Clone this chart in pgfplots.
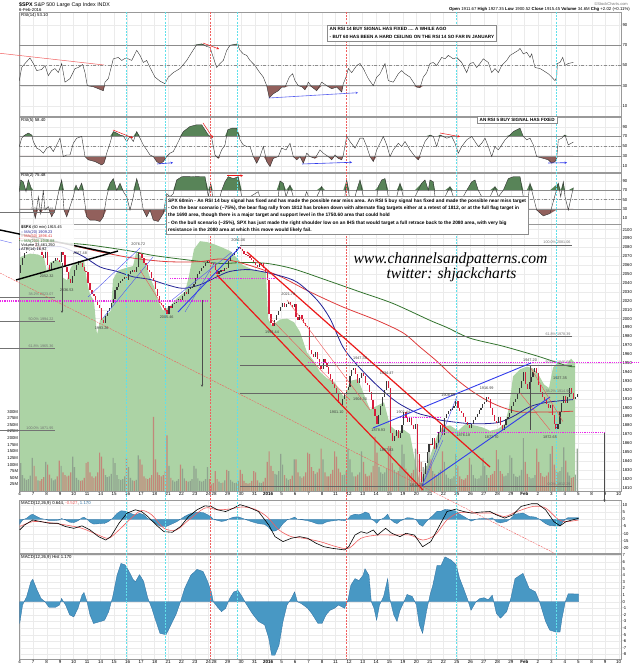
\documentclass[border=0pt]{standalone}
\usepackage{fontspec}
\setmainfont{Liberation Sans}
\newfontfamily\wmfont{Liberation Serif}
\usepackage{pgfplots}
\usepackage{pgfplotstable}
\pgfplotsset{compat=1.18}
\usetikzlibrary{arrows.meta}

\definecolor{areagreen}{RGB}{172,211,165}
\definecolor{volred}{RGB}{196,128,118}
\definecolor{volgray}{RGB}{140,158,140}
\definecolor{cdnred}{RGB}{215,30,60}
\definecolor{cdnup}{RGB}{55,55,55}
\definecolor{rsigreen}{RGB}{88,132,88}
\definecolor{rsibrown}{RGB}{146,96,92}
\definecolor{maA}{RGB}{35,35,150}
\definecolor{maB}{RGB}{222,60,60}
\definecolor{maC}{RGB}{50,115,45}
\definecolor{cyanl}{RGB}{95,225,235}
\definecolor{redl}{RGB}{240,95,95}
\definecolor{histblue}{RGB}{72,152,196}
\definecolor{histedge}{RGB}{45,110,160}
\definecolor{magl}{RGB}{235,40,235}
\definecolor{trblue}{RGB}{50,60,235}
\definecolor{trred}{RGB}{235,25,25}

\newcommand\fs[1]{\fontsize{#1}{#1}\selectfont}

\pgfplotstableread{
k c v
-1 2051 0
0 2060 105
1 2068 60
2 2074 48
3 2078 42
4 2083 45
5 2088 58
6 2091.7 125
7 2086 95
8 2080 55
9 2082 40
10 2077 38
11 2072 45
12 2068 52
13 2077 110
14 2060 100
15 2055 62
16 2062 48
17 2065 40
18 2068 44
19 2066 55
20 2063.6 115
21 2075 95
22 2072 70
23 2058 60
24 2052 55
25 2045 58
26 2040 70
27 2047.6 130
28 2055 90
29 2060 50
30 2065 42
31 2062 38
32 2058 40
33 2054 50
34 2052.2 105
35 2040 110
36 2032 70
37 2028 55
38 2025 50
39 2020 55
40 2015 70
41 2012.4 145
42 1998 130
43 1995 85
44 2003 60
45 2008 52
46 2012 55
47 2018 65
48 2021.9 125
49 2032 105
50 2036 60
51 2040 45
52 2042 42
53 2044 45
54 2047 55
55 2043.4 125
56 2050 90
57 2053 50
58 2055 40
59 2052 38
60 2058 42
61 2074 135
62 2073.1 120
63 2068 100
64 2063 55
65 2060 48
66 2055 45
67 2052 50
68 2046 60
69 2041.9 280
70 2033 120
71 2025 70
72 2018 60
73 2015 55
74 2012 60
75 2010 75
76 2005.6 210
77 2014 95
78 2012 50
79 2016 40
80 2018 35
81 2020 38
82 2022 45
83 2021.2 100
84 2025 85
85 2030 48
86 2028 38
87 2033 35
88 2035 38
89 2036 45
90 2039 95
91 2046 85
92 2050 48
93 2054 38
94 2057 35
95 2059 38
96 2062 45
97 2064.3 90
98 2063 45
99 2062 25
100 2061 30
101 2055 75
102 2050 45
103 2053 35
104 2055 30
105 2054 32
106 2057 40
107 2056.5 80
108 2065 75
109 2070 42
110 2072 35
111 2075 30
112 2078 32
113 2080 38
114 2078.4 80
115 2076 65
116 2073 38
117 2072 30
118 2070 28
119 2068 30
120 2066 38
121 2063.4 75
122 2060 70
123 2058 40
124 2061 32
125 2062 30
126 2057 35
127 2052 50
128 2043.9 110
129 2005 150
130 1995 95
131 1992 75
132 1998 65
133 2004 62
134 2008 75
135 2012.7 140
136 2018 100
137 2013 60
138 2016 48
139 2019 42
140 2015 45
141 2013 58
142 2016.7 120
143 2002 120
144 1998 70
145 2004 55
146 2000 50
147 1995 55
148 1992 70
149 1990.3 145
150 1965 140
151 1960 90
152 1957 75
153 1962 65
154 1955 70
155 1948 85
156 1943.1 160
157 1955 120
158 1950 70
159 1946 55
160 1938 55
161 1932 65
162 1926 80
163 1922 150
164 1915 130
165 1905 85
166 1903 70
167 1910 60
168 1915 62
169 1920 75
170 1923.7 160
171 1935 120
172 1942 70
173 1945 55
174 1938 55
175 1928 62
176 1933 70
177 1938.7 150
178 1935 110
179 1928 65
180 1925 55
181 1918 58
182 1908 70
183 1898 95
184 1890.3 205
185 1882 145
186 1892 90
187 1902 70
188 1912 65
189 1920 70
190 1930 85
191 1921.8 170
192 1872 170
193 1862 105
194 1868 80
195 1875 70
196 1866 75
197 1872 90
198 1880.3 175
199 1895 140
200 1888 85
201 1884 70
202 1888 62
203 1880 68
204 1876 80
205 1881.3 160
206 1848 155
207 1828 120
208 1816 110
209 1825 90
210 1838 85
211 1850 95
212 1859.3 175
213 1858 120
214 1866 75
215 1854 65
216 1860 60
217 1873 70
218 1880 80
219 1869 150
220 1888 110
221 1893 62
222 1896 50
223 1898 45
224 1900 48
225 1902 55
226 1906.9 140
227 1900 95
228 1896 55
229 1894 45
230 1889 42
231 1884 48
232 1880 60
233 1877.1 125
234 1882 100
235 1886 60
236 1890 48
237 1893 45
238 1897 48
239 1900 58
240 1903.6 125
241 1906 95
242 1912 60
243 1910 50
244 1900 60
245 1892 65
246 1885 75
247 1883 155
248 1890 120
249 1880 75
250 1875 65
251 1880 55
252 1887 58
253 1890 68
254 1893.4 135
255 1902 125
256 1906 65
257 1910 55
258 1916 52
259 1922 58
260 1930 80
261 1940.2 200
262 1926 110
263 1921 65
264 1929 52
265 1934 48
266 1940 50
267 1945 60
268 1939.4 160
269 1925 110
270 1917 68
271 1912 55
272 1908 52
273 1904 58
274 1900 70
275 1903 140
276 1892 170
277 1882 100
278 1876 80
279 1882 70
280 1895 75
281 1905 90
282 1912.5 165
283 1905 115
284 1912 70
285 1922 58
286 1916 50
287 1910 52
288 1912 62
289 1915.45 160
}\price
\pgfplotstablecreatecol[create col/assign/.code={%
  \getprevrow{c}\pvv
  \ifx\pvv\empty\getthisrow{c}\pvv\fi
  \pgfkeyslet{/pgfplots/table/create col/next content}\pvv}]{o}{\price}

\pgfplotstableread{
x y
19.3 35
21.7 48
25 52
30 57.5
33.3 52
36.7 45
41.7 46
45 50
48.3 40
51.7 45
55 47
58.3 43
61.7 52
65 33.5
70 37
75 47
78.3 48
82.7 51
85 43
87.3 30
93.3 29
103.3 25
105 33.5
108.3 37
113.3 56.6
118.3 58
121.7 55
125 57
128.3 56.6
131.7 55
136.7 65
140 60
143.3 53
146.7 55
150 48
155 38.5
160 34.5
165 32
168.3 38.5
173.3 43
180 47
186.7 55
191.7 63
196.7 70.7
201.7 71.4
206.7 68.8
210 68
213.3 58
216.7 48
220 52
223.3 55
226.7 65
230 70
233.3 70.7
237.3 71.4
240 65
243.3 61.5
246.7 60
250 55
255 50
258.3 45
263.3 38.5
266.7 30
269.3 18
273.3 22
278.3 25
281.7 28.6
285 28.6
289.3 38.5
292.7 41.8
295 35
298.3 30
301.7 29
305 26
308.3 33.5
312 28.6
316.7 25
321.7 33.5
326.7 30
331.7 27
336.7 28.6
341.7 23.7
343.3 32
346 38.5
348.3 47
351.7 43
356.7 50
360 52
363.3 47
368.3 37
373.3 30
376.7 38.5
380 41.8
385 52
388.3 35
393.3 33.5
398.3 41.8
401.7 45
405 41.8
410 38.5
413.3 33.5
416.7 28.6
420 28
423.3 38.5
426.7 43
430 52
433.3 53
436.7 50
441.7 58
445 56.6
448.3 60
453.3 56.6
456.7 58
461.7 53
466.7 43
470 52
473.3 53
476.7 48
480 52
483.3 56.6
488.3 53
491.7 43
495 47
498.3 43
501.7 50
506.7 55
510 60
515 63
518.3 65
520 67
523.3 61.5
526.7 63
530 58
531.7 61.5
535 48
540 47
543.3 45
548.3 41.8
551.7 38.5
555 35
556.7 38.5
557.3 52
560 53
562.7 58
565 50
568.3 52
573.3 53.1
}\rsiA

\pgfplotstableread{
x y
19.3 49.3
21.7 66.5
25 73
28.3 77
31.7 73
33.3 59.6
36.7 46
40 42.4
43.3 35.6
46.7 46
50 49.3
53.3 39
56.7 52.7
60 66.5
63.3 28.7
66.7 32
70 32
73.3 56
76.7 66.5
81.7 70
85 28.7
88.3 22
95 18.4
101.7 11.5
104 15
106.7 35.6
110 56
113.3 80
116.7 77
120 73
123.3 71
126.7 59.6
130 70
133.3 59.6
136.7 80
140 66.5
143.3 52.7
146.7 42.4
150 32
153.3 28.7
156.7 18.4
160 13.6
163.3 18.4
166.7 28.7
170 35.6
173.3 39
176.7 52.7
180 66.5
183.3 80
190 90.5
196.7 94
201.7 94
205 83.7
208.3 73
211.7 66.5
215 32
218.3 25
221.7 42.4
225 52.7
227.7 83.7
231.7 87
236.7 87
240 63
243.3 52.7
246.7 49.3
250 49.3
253.3 28.7
256.7 15
260 28.7
263.3 49.3
266.7 18.4
270 8
273.3 25
278.3 28.7
281.7 46
286 42.4
290 56
293.3 28.7
296.7 22
300 28.7
303.3 15
306.7 35.6
310 28.7
315 25
320 42.4
323.3 35.6
328.3 28.7
331.7 22
335 32
338.3 25
341.7 22
343.3 32
346.7 70
350 59.6
355 46
360 66.5
363.3 66.5
366.7 49.3
370 28.7
373.3 18.4
376.7 42.4
380 56
383.3 70
386.7 52.7
390 28.7
393.3 42.4
398.3 56
401.7 49.3
405 59.6
410 42.4
415 28.7
418.3 22
421.7 42.4
425 59.6
430 73
433.3 70
436.7 49.3
440 73
443.3 70
446.7 66.5
451.7 70
455 56
458.3 35.6
461.7 49.3
466.7 63
471.7 70
475 59.6
478.3 49.3
481.7 56
485 66.5
488.3 49.3
491.7 28.7
495 49.3
498.3 42.4
501.7 52.7
505 63
510 73
513.3 80
516.7 83.7
520 87
523.3 70
526.7 63
530 66.5
533.3 52.7
536.7 28.7
543.3 25
548.3 22
551.7 15
555 18.4
556.7 25
558.3 63
561.7 66.5
565 73
568.3 52.7
573.3 58.4
}\rsiB

\pgfplotstableread{
x y
19.3 67
20.7 92
23.3 88
26 67
28.3 92
30.7 78
33.3 27.5
35.3 10
38.3 56
40.7 20
43.3 70
45 27.5
48.3 35
51.7 13
55 27.5
58.3 63
61.7 92
64 27.5
66.7 13
70 35
73.3 56
76 81
78.3 70
81.7 85
84 56
86.7 13
90 6
95 6
100 3
103.3 13
106.7 56
110 85
113.3 95
116.7 70
120 85
123.3 67
126.7 56
130 27.5
133.3 56
136.7 95
140 70
143.3 27.5
146.7 13
150 27.5
153.3 6
158.3 3
163.3 20
166.7 63
170 56
173.3 63
176.7 92
181.7 99
193.3 99.5
200 99
205 99
208.3 56
210.7 85
212.7 56
216.7 27.5
221.7 70
225 88
228.3 99
233.3 95
238.3 99
241.7 56
245 27.5
250 56
258.3 67
263.3 27.5
270 56
276.7 27.5
280 90
283.3 85
286 56
290 81
293.3 56
300 27.5
306.7 67
313.3 27.5
316.7 56
321.7 78
325 27.5
330 56
335 27.5
340 40
343.3 27.5
346.7 92
349.3 56
351.7 27.5
356.7 70
360 92
363.3 56
368.3 27.5
375 27.5
378.3 78
381.7 92
385 95
388.3 56
391.7 27.5
396.7 56
400 85
403.3 56
410 27.5
415 56
421.7 85
425 92
428.3 70
430 92
433.3 88
435 56
440 27.5
445 56
450 78
453.3 56
458.3 27.5
463.3 56
466.7 70
471.7 88
475 92
478.3 70
481.7 56
485 27.5
490 56
495 78
498.3 56
503.3 70
508.3 95
513.3 99
520 99
523.3 56
526.7 27.5
530 85
533.3 56
536.7 27.5
543.3 15
550 20
558.3 85
560.7 56
563.3 88
565 56
568.3 27.5
573.3 75.5
}\rsiC

\pgfplotstableread{
x y
19 2068
24 2071
30 2073
38 2072
44 2069
47 2052
50 2063
56 2066
61 2064
63 2046
67 2043
71 2058
77 2064
84 2066
87 2042
90 2027
94 2020
97 1982
100 1998
106 2004
111 2009
113 2044
118 2054
126 2057
133 2059
136 2074
140 2071
146 2060
150 2046
154 2036
158 2020
163 2009
170 2014
177 2023
185 2030
189 2048
194 2078
200 2087
207 2086
213 2084
222 2080
230 2076
237 2068
243 2060
255 2054
266 2052
268 2000
272 1992
280 1999
287 2000
294 1996
300 1985
307 1962
314 1952
320 1940
327 1933
335 1928
341 1916
345 1911
350 1930
358 1932
365 1912
370 1898
377 1902
384 1906
390 1880
397 1873
404 1875
410 1870
415 1840
420 1815
425 1830
431 1848
437 1868
442 1878
450 1880
458 1874
466 1882
474 1880
482 1878
490 1874
498 1876
505 1882
509 1900
513 1935
520 1943
527 1946
533 1944
538 1938
544 1926
549 1922
553 1945
558 1951
563 1947
568 1950
571 1955
575 1950
}\greenA

\pgfplotstableread{
x y
19 2078
40 2079
60 2081
83 2070
100 2058
117 2053
133 2047
150 2044
167 2038
183 2034
200 2038
217 2047
230 2053
250 2055
277 2049
297 2041
317 2021
330 2000
343 1968
357 1948
377 1925
397 1906
417 1894
430 1890
440 1886
470 1882
497 1883
513 1890
530 1901
547 1906
573 1909
}\maAt

\pgfplotstableread{
x y
19 2090
60 2085
100 2075
133 2068
167 2064
200 2064
220 2067
243 2062
277 2049
310 2030
343 2013
377 1998
403 1984
420 1968
437 1952
453 1935
470 1920
487 1908
503 1900
520 1895
540 1895
555 1895
573 1896
}\maBt

\pgfplotstableread{
x y
19 2088
50 2086
87 2083
130 2076
153 2071
187 2066
220 2062
243 2063
267 2062
293 2056
327 2043
360 2030
393 2017
430 1998
447 1990
470 1978
503 1969
537 1958
567 1947
575 1946
}\maCt

\pgfplotstableread{
x y
19.7 -7.3
24.6 -3.9
32.8 -0.5
41 -1.6
49 -2.7
57.4 -2.7
65.6 -5
73.8 -6.2
82 -4.5
90 -7.3
98.5 -11.9
105.8 -14.2
110.8 -11.9
119 -2.7
127 4.2
135.4 6.5
141.5 5.3
147.7 1.9
158 -5
164 -8.5
172.3 -8.9
180.5 -5
188.7 1.9
197 6.5
205 9.2
211 8.8
217.4 6.5
225.6 5.3
233.8 7.7
240 10
248 8.4
258.5 5.3
268.7 -3.9
275 -11.9
283 -15.3
291.3 -13
299.5 -11.9
307.7 -13
316 -16.4
324 -18.8
332.3 -19.9
344.6 -21
348.7 -18.8
355 -10.8
361 -8.5
367 -9.6
373.3 -7.3
377.4 -10.8
385.6 -6.2
391.8 -9.6
400 -11.9
406 -9.6
414.4 -10.8
422.6 -18.8
430.8 -15.3
439 -5
447 5.3
455.4 6.9
463.6 5.3
471.8 4.2
480 4.9
490 5.3
496.4 3
504.6 0.8
512.8 3
521 8.8
531.3 10.6
537.4 10.6
545.6 6.5
553.8 -1.6
560 -4.5
566 -1.6
578.5 0.644
}\macdL

\pgfplotstableread{
x y
19.7 -5
32.8 -1.6
49 -2.3
65.6 -3.9
82 -6.2
98.5 -10.8
108.7 -13
119 -7.3
131.3 0.8
141.5 6
151.8 3
164 -6.2
176.4 -7.3
188.7 -0.5
205 7.7
217.4 6.5
229.7 7
242 8.4
254.4 7
266.7 1.9
279 -7.3
291.3 -11.9
303.6 -13
320 -15.3
336.4 -18.8
348.7 -19.9
361 -13
377.4 -10.8
393.8 -10.8
410 -10.8
422.6 -14.2
435 -10.8
447 -0.5
459.5 4.6
476 4.2
492.3 4.2
504.6 1.9
517 5.3
533.3 8.8
545.6 7.7
558 0
566 -1.6
578.5 -0.527
}\macdS

\pgfplotstableread{
x y
19.7 -3.3
22.6 -0.5
26.7 0.8
30.8 3.0
32.8 3.4
37 1.8
41 0.5
45 0
49 -0.85
55.4 -0.85
59.5 -0.5
61.5 0.5
65.6 -0.5
69.7 -2
73.8 -2.3
78 -1
82 1
84 1.4
87 0
90 -2
93.5 -3.3
100.5 -3
104.6 -2.8
108.7 -1.5
110.8 -0.3
112.8 0.8
117 4
121 5.8
125 5.6
129 4.6
133 3.4
135.4 3
139.5 4.1
143.6 3.1
147.7 0.6
151.8 -1
156 -3
160 -4.8
166 -5
170 -3.8
176.4 -1.8
180.5 0
184.6 2
190.8 4
197 4.9
203 4.6
207 3.3
211.3 1.5
213.3 0
217.4 -0.8
221.5 -1.5
225.6 -1
229.7 0.5
233.8 1.5
238 1.7
242 0.8
246 -0.3
252.3 -1.8
258.5 -3
264.6 -3.5
268.7 -5.5
271.6 -8.1
274.9 -8.1
279 -6.6
283 -3
287 -0.5
291.3 0.5
294.6 1.5
297.4 0
301.5 -0.3
307.7 -1
311.8 -1.8
318 -3.3
322 -3.3
326 -2
330 -1.3
334.4 -1
338.5 -0.5
344.6 -1
348 0.3
350.8 2.5
355 3.5
359 3.2
363 4
365 5
369 4
371.3 0
374 -1
376.6 -2.8
379.5 -0.5
383.6 0.8
387.7 3.5
389.7 0.5
393.8 -2
397 -3
400 -1.3
404 0
407 1.1
412.3 0.8
416.4 -0.5
419.3 -3.5
422.6 -4.8
426.7 -1.3
430 1
432.8 2.5
437 5.5
441 5.5
445 6.8
451.3 6.3
456.2 5.6
459.5 3.6
463.6 2
467.7 0.3
471 -1.3
476 0
480 0.5
484 0.6
488.2 0.3
492.3 1
496.4 -1.8
500.5 -2.5
506.7 -1.5
510.8 0.5
515 3.5
523 4.3
529.2 2
535.4 1.5
539.5 0
545.6 -3
549.7 -4.3
555.9 -4.6
560 -4.6
562 -2.5
565.3 0
568.2 1.2
578.5 1.17
}\histT

\pgfplotsset{
  panel/.style={
    scale only axis, width=602pt, anchor=south west, xmin=19, xmax=621,
    axis line style={draw=black!40, line width=0.4pt},
    major tick length=0pt, minor tick length=0pt,
    xtick={19.7,33.18,46.66,60.15,73.63,87.11,100.59,114.07,127.56,141.04,154.52,168.0,181.48,194.97,208.45,214.23,227.71,241.19,254.67,268.15,281.64,295.12,308.6,322.08,335.56,349.05,362.53,376.01,389.49,402.97,416.46,429.94,443.42,456.9,470.38,483.87,497.35,510.83,524.31,537.79,551.28,564.76,578.24,591.72,605.2,618.69},
    xticklabels={},
    xmajorgrids, ymajorgrids,
    major grid style={draw=black!8, line width=0.3pt},
    yticklabel pos=right,
    yticklabel style={font=\fs{4.2}, anchor=west, inner sep=0.8pt, xshift=0.5pt},
    xticklabel style={font=\fs{4.5}, inner sep=1pt},
    /pgf/number format/assume math mode=true,
    /pgf/number format/set thousands separator={},
    unbounded coords=discard,
  },
  daylabels/.style={xticklabels={4,7,8,9,10,11,14,15,16,17,18,21,22,23,24,28,29,30,31,\textbf{2016},5,6,7,8,11,12,13,14,15,19,20,21,22,25,26,27,28,29,\textbf{Feb},2,3,4,5,8,9,10}},
}

\begin{document}
\begin{tikzpicture}
\useasboundingbox (0,0) rectangle (640pt,668pt);

% ---------- RSI 14
\begin{axis}[panel, at={(19pt,552pt)}, height=104pt, ymin=0, ymax=103, ytick={10,30,50,70,90}]
\addplot[draw=none, fill=rsigreen] table[y expr={max(\thisrow{y},70)}]{\rsiA} -- (axis cs:573.3,70) -- (axis cs:19.3,70) -- cycle;
\addplot[draw=none, fill=rsibrown] table[y expr={min(\thisrow{y},30)}]{\rsiA} -- (axis cs:573.3,30) -- (axis cs:19.3,30) -- cycle;
\addplot[black!45, line width=0.7pt] coordinates {(19,70)(621,70)};
\addplot[black!45, line width=0.7pt] coordinates {(19,30)(621,30)};
\addplot[black!45, line width=0.4pt, dash dot] coordinates {(19,50)(621,50)};
\addplot[black!80, line width=0.4pt] table{\rsiA};
\end{axis}

% ---------- RSI 5
\begin{axis}[panel, at={(19pt,496pt)}, height=55pt, ymin=-3, ymax=110, ytick={10,30,50,70,90}]
\addplot[draw=none, fill=rsigreen] table[y expr={max(\thisrow{y},70)}]{\rsiB} -- (axis cs:573.3,70) -- (axis cs:19.3,70) -- cycle;
\addplot[draw=none, fill=rsibrown] table[y expr={min(\thisrow{y},30)}]{\rsiB} -- (axis cs:573.3,30) -- (axis cs:19.3,30) -- cycle;
\addplot[black!45, line width=0.7pt] coordinates {(19,70)(621,70)};
\addplot[black!45, line width=0.7pt] coordinates {(19,30)(621,30)};
\addplot[black!45, line width=0.4pt, dash dot] coordinates {(19,50)(621,50)};
\addplot[black!80, line width=0.4pt] table{\rsiB};
\end{axis}

% ---------- RSI 2
\begin{axis}[panel, at={(19pt,444pt)}, height=51pt, ymin=-2.4, ymax=107, ytick={10,30,50,70,90}]
\addplot[draw=none, fill=rsigreen] table[y expr={max(\thisrow{y},70)}]{\rsiC} -- (axis cs:573.3,70) -- (axis cs:19.3,70) -- cycle;
\addplot[draw=none, fill=rsibrown] table[y expr={min(\thisrow{y},30)}]{\rsiC} -- (axis cs:573.3,30) -- (axis cs:19.3,30) -- cycle;
\addplot[black!45, line width=0.7pt] coordinates {(19,70)(621,70)};
\addplot[black!45, line width=0.7pt] coordinates {(19,30)(621,30)};
\addplot[black!45, line width=0.4pt, dash dot] coordinates {(19,50)(621,50)};
\addplot[black!80, line width=0.4pt] table{\rsiC};
\end{axis}

% ---------- Price base (grid + green area)
\begin{axis}[panel, at={(19pt,177pt)}, height=267pt, ymin=1806.3, ymax=2106.3, ytick={1810,1820,...,2100}, yticklabels={}]
\addplot[draw=none, fill=areagreen] table{\greenA} \closedcycle;
\end{axis}

% ---------- Volume
\begin{axis}[panel, at={(19pt,177pt)}, height=267pt, ymin=0, ymax=1010,
  xmajorgrids=false, ymajorgrids=false, axis line style={draw=none}, xtick=\empty,
  ytick={25,50,...,300}, yticklabel pos=left, yticklabel style={anchor=east, xshift=-0.5pt},
  yticklabel={\pgfmathprintnumber{\tick}M}]
\addplot[ybar, bar width=1.2pt, bar shift=0pt, fill=volred, draw=none, fill opacity=0.9] table[x expr={19.7+1.926*(\thisrow{k}+0.5)}, y expr={\thisrow{c}<\thisrow{o} ? \thisrow{v} : nan}]{\price};
\addplot[ybar, bar width=1.2pt, bar shift=0pt, fill=volgray, draw=none, fill opacity=0.9] table[x expr={19.7+1.926*(\thisrow{k}+0.5)}, y expr={\thisrow{c}<\thisrow{o} ? nan : \thisrow{v}}]{\price};
\end{axis}

% ---------- Price top
\begin{axis}[panel, at={(19pt,177pt)}, height=267pt, ymin=1806.3, ymax=2106.3, ytick={1810,1820,...,2100}, daylabels, xmajorgrids=false, ymajorgrids=false]
\addplot[maC, line width=0.8pt, smooth] table{\maCt};
\addplot[maB, line width=0.8pt, smooth] table{\maBt};
\addplot[maA, line width=0.8pt, smooth] table{\maAt};
\addplot[draw=none, mark=none, error bars/.cd, y dir=both, y explicit, error mark=none,
  error bar style={draw=cdnred, solid, line width=1.3pt}]
  table[x expr={19.7+1.926*(\thisrow{k}+0.5)}, y expr={\thisrow{c}<\thisrow{o} ? (\thisrow{o}+\thisrow{c})/2 : nan}, y error expr={abs(\thisrow{c}-\thisrow{o})/2}]{\price};
\addplot[draw=none, mark=none, error bars/.cd, y dir=both, y explicit, error mark=none,
  error bar style={draw=cdnup, solid, line width=1.1pt}]
  table[x expr={19.7+1.926*(\thisrow{k}+0.5)}, y expr={\thisrow{c}>\thisrow{o} ? (\thisrow{o}+\thisrow{c})/2 : nan}, y error expr={abs(\thisrow{c}-\thisrow{o})/2}]{\price};
\end{axis}

% ---------- MACD
\begin{axis}[panel, at={(19pt,115pt)}, height=53pt, ymin=-23.1, ymax=13.2, ytick={-20,-15,...,10}]
\addplot[fill=histblue, draw=histedge, line width=0.3pt] table{\histT} \closedcycle;
\addplot[redl, line width=0.6pt, smooth] table{\macdS};
\addplot[black, line width=0.6pt] table{\macdL};
\end{axis}

% ---------- MACD histogram
\begin{axis}[panel, at={(19pt,9pt)}, height=105pt, ymin=-8.68, ymax=7.23, ytick={-8,-7,...,7}, daylabels]
\addplot[fill=histblue, draw=histedge, line width=0.3pt] table{\histT} \closedcycle;
\end{axis}

% ---------- annotations (image pixel coordinates, y downward)
\begin{scope}[x=1pt, y=-1pt, shift={(0pt,668pt)}]
\node[anchor=west, font=\fs{5.3}, inner sep=0] at (19,5) {\textbf{\$SPX} S\&P 500 Large Cap Index INDX};
\node[anchor=west, font=\fs{4.3}, inner sep=0] at (19,10) {6-Feb-2016};
\node[anchor=east, font=\fs{4.3}, inner sep=0] at (630,9.5) {\textbf{Open} 1911.67 \textbf{High} 1927.35 \textbf{Low} 1900.52 \textbf{Close} 1915.45 \textbf{Volume} 34.6M \textbf{Chg} +2.02 (+0.11\%)};
\node[anchor=east, font=\fs{4}, text=black!55, inner sep=0] at (628,4) {\textcopyright StockCharts.com};
\node[anchor=west, font=\fs{4.3}, inner sep=0] at (21,15.5) {RSI(14) 53.10};
\node[anchor=west, font=\fs{4.3}, inner sep=0] at (21,120.5) {RSI(5) 58.40};
\node[anchor=west, font=\fs{4.3}, inner sep=0] at (21,175.5) {RSI(2) 75.48};
\node[anchor=west, font=\fs{4.3}, inner sep=0] at (21,503) {MACD(12,26,9) 0.644, \textcolor{redl}{-0.527}, \textcolor{histedge}{1.170}};
\node[anchor=west, font=\fs{4.3}, inner sep=0] at (21,557) {MACD(12,26,9) Hist 1.170};

% vertical marker lines
\foreach \xx in {126.7,165,237,456,556.5} \draw[cyanl, dash pattern=on 2pt off 1.2pt, line width=0.5pt] (\xx,12) -- (\xx,659);
\foreach \xx in {210.5,346} \draw[redl, dash pattern=on 2pt off 1.2pt, line width=0.5pt] (\xx,12) -- (\xx,659);

% RSI annotations
\draw[trred!70, line width=0.5pt] (0,53.3) -- (104,65);
\draw[trred, line width=0.5pt, -{Stealth[length=2.5pt,width=2.4pt]}] (203,43) -- (219,49);
\draw[trblue!80, line width=0.6pt, -{Stealth[length=2.5pt,width=2.4pt]}] (269,98) -- (358,92.7);
\draw[trred, line width=0.5pt, -{Stealth[length=2.5pt,width=2.4pt]}] (113,130) -- (133,138);
\draw[trred, line width=0.5pt, -{Stealth[length=2.5pt,width=2.4pt]}] (203,123) -- (213,138);
\draw[trblue, line width=0.6pt, -{Stealth[length=2.5pt,width=2.4pt]}] (157,164) -- (173,162.7);
\draw[trblue, line width=0.6pt, -{Stealth[length=2.5pt,width=2.4pt]}] (302,164) -- (352,162.3);
\draw[trred, line width=0.5pt, -{Stealth[length=2.5pt,width=2.4pt]}] (440,133) -- (460,136.7);
\draw[trblue, line width=0.6pt, -{Stealth[length=2.5pt,width=2.4pt]}] (548,163) -- (567,162.7);
\draw[trred, line width=0.5pt, -{Stealth[length=2.5pt,width=2.4pt]}] (227,175.7) -- (243,175.7);

% fib lines left
\draw[black!55, line width=0.5pt] (0,212) -- (55,212);
\draw[black!55, line width=0.5pt] (0,297) -- (55,297);
\draw[black!55, line width=0.5pt] (0,321.7) -- (55,321.7);
\draw[black!55, line width=0.5pt] (0,348.3) -- (55,348.3);
\draw[black!55, line width=0.5pt] (0,430.7) -- (55,430.7);
\begin{scope}[every node/.style={font=\fs{3.7}, text=black!55, inner sep=0.4pt, anchor=south east}]
\node at (54,211.6) {0.0\% 2116.48};
\node at (54,296.6) {38.2\% 2023.07};
\node at (54,321.3) {50.0\% 1994.22};
\node at (54,347.9) {61.8\% 1965.36};
\node at (54,430.3) {100.0\% 1871.95};
\end{scope}
% fib lines right
\foreach \yy in {245,336.7,365,393.3,486.7} \draw[black!60, line width=0.5pt] (240,\yy) -- (572,\yy);
\begin{scope}[every node/.style={font=\fs{3.7}, text=black!55, inner sep=0.4pt, anchor=south east}]
\node at (571,244.6) {100.0\% 2081.06};
\node at (571,336.3) {61.8\% 1978.39};
\node at (571,364.6) {50.0\% 1946.68};
\node at (571,392.9) {38.2\% 1914.96};
\node at (571,486.3) {0.0\% 1812.29};
\end{scope}

% magenta dotted levels
\begin{scope}[magl, line width=1.1pt, dash pattern=on 1.2pt off 1pt]
\draw (0,301) -- (207,301);
\draw (170,278.5) -- (277,278.5);
\draw (308,362.5) -- (640,362.5);
\draw (400,417.7) -- (441,417.7);
\draw (437,432.7) -- (605,432.7);
\end{scope}

% black trend lines
\draw[black, line width=1.4pt] (0,230) -- (110,253);
\draw[black, line width=1.4pt] (16,280) -- (118,251);
\draw[trblue!70, line width=0.4pt] (0,240) -- (12,243);

% blue trend lines
\begin{scope}[trblue!85, line width=0.4pt]
\draw (88,297) -- (140,248);
\draw (103,318) -- (153,257);
\draw (172,300) -- (232,252);
\draw (185,312) -- (215,262);
\draw (422,486) -- (457,396);
\draw (422,486) -- (443,440);
\end{scope}
\begin{scope}[trblue, line width=0.9pt]
\draw (178,312) -- (240,247);
\draw (373,428) -- (531,363);
\draw (422,486) -- (550,397);
\end{scope}

% red trend lines
\begin{scope}[trred, line width=1.2pt]
\draw (247,252) -- (490,467);
\draw (217,275) -- (423,490);
\end{scope}
\begin{scope}[trred!75, line width=0.4pt]
\draw (140,270) -- (167,313);
\draw (270,318) -- (350,400);
\draw (287,300) -- (370,410);
\draw (530,366.7) -- (563,421.7);
\draw (520,393) -- (550,430);
\end{scope}
\draw[redl, line width=0.4pt, dash pattern=on 2pt off 1pt] (0,273) -- (554,553);

% vertical arrows / lines
\begin{scope}[black!70, line width=0.5pt]
\draw[-{Stealth[length=2.5pt,width=2.4pt]}] (62,263) -- (62,313);
\draw[-{Stealth[length=2.5pt,width=2.4pt]}] (202,300) -- (202,387);
\draw[-{Stealth[length=2.5pt,width=2.4pt]}] (604.5,432.7) -- (604.5,502);
\draw (530,366) -- (530,430);
\end{scope}

% price annotations
\begin{scope}[every node/.style={font=\fs{3.8}, text=black!75, inner sep=0}]
\node at (80,253.3) {2067.48};
\node at (46.7,276) {2052.32};
\node at (66.7,290) {2036.53};
\node at (101.7,328.3) {1993.26};
\node at (138.3,244.3) {2076.72};
\node at (166.7,317.3) {2005.46};
\node at (238.3,240) {2081.06};
\node at (272,332) {1993.44};
\node at (288.3,294) {2021.78};
\node at (336.7,411.7) {1901.10};
\node at (360,358.3) {1947.38};
\node at (386.7,372.7) {1934.47};
\node at (360,399.3) {1904.30};
\node at (378.3,430) {1878.93};
\node at (386.7,450) {1857.83};
\node at (403.3,411.7) {1901.44};
\node at (416.7,485) {1812.29};
\node at (448.3,395) {1908.85};
\node at (463.3,435) {1876.18};
\node at (486.7,388.3) {1916.99};
\node at (491.7,436.7) {1872.70};
\node at (530,360) {1947.20};
\node at (550,436.7) {1872.65};
\node at (560,378.3) {1927.35};
\end{scope}

% price legend
\fill[white, opacity=0.85] (19.5,224.5) rectangle (74,252);
\begin{scope}[every node/.style={font=\fs{3.9}, inner sep=0, anchor=west}]
\node at (21,227.8) {\textbf{\$SPX} (60 min) 1915.45};
\node[text=maA] at (21,232.2) {-- MA(20) 1909.23};
\node[text=maB] at (21,236.6) {-- MA(50) 1896.41};
\node[text=maC] at (21,241) {-- MA(200) 1946.08};
\node at (21,245.4) {Volume 23,461,250};
\node at (21,249.8) {ATR(14) 16.92};
\end{scope}

% text boxes
\node[draw=black!45, fill=white, line width=0.4pt, anchor=north west, inner xsep=2.5pt, inner ysep=2.5pt, align=left, font=\fontsize{4.6}{7.5}\selectfont\bfseries] at (327,25) {AN RSI 14 BUY SIGNAL HAS FIXED .... A WHILE AGO\\- BUT 60 HAS BEEN A HARD CEILING ON THE RSI 14 SO FAR IN JANUARY};
\node[draw=black!45, fill=white, line width=0.4pt, anchor=north west, inner xsep=2.5pt, inner ysep=2pt, align=left, font=\fontsize{4.6}{5.5}\selectfont\bfseries] at (477,116) {AN RSI 5 BUY SIGNAL HAS FIXED};
\node[draw=black!45, fill=white, line width=0.4pt, anchor=north west, inner xsep=2pt, inner ysep=2pt, align=left, font=\fontsize{4.8}{7.3}\selectfont\bfseries] at (166,196.5) {SPX 60min - An RSI 14 buy signal has fixed and has made the possible near miss area. An RSI 5 buy signal has fixed and made the possible near miss target\\- On the bear scenario (\textasciitilde75\%), the bear flag rally from 1812 has broken down with alternate flag targets either at a retest of 1812, or at the full flag target in\\the 1690 area, though there is a major target and support level in the 1750.60 area that could hold\\- On the bull scenario (\textasciitilde25\%), SPX has just made the right shoulder low on an IHS that would target a full retrace back to the 2080 area, with very big\\resistance in the 2080 area at which this move would likely fail.};

% watermark
\node[font=\wmfont\itshape\fontsize{15.6}{16}\selectfont, inner sep=0] at (450.5,259.5) {www.channelsandpatterns.com};
\node[font=\wmfont\itshape\fontsize{15.6}{16}\selectfont, inner sep=0] at (451.5,274.5) {twitter: shjackcharts};
\end{scope}
\end{tikzpicture}
\end{document}
